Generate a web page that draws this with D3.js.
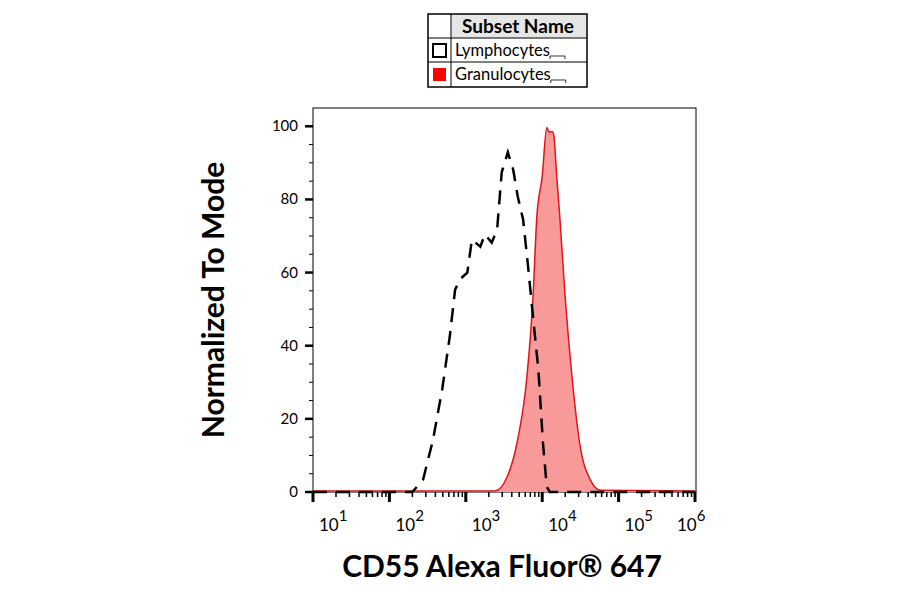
<!DOCTYPE html>
<html><head><meta charset="utf-8">
<script src="https://cdn.jsdelivr.net/npm/d3@7"></script>
<style>body{margin:0;background:#fff}text{font-family:Lato,"Open Sans",sans-serif}</style>
</head><body><div id="graph"></div>
<script>
// x values are log10 of the fluorescence, y is % of mode
var lymphX = [1, 2.3, 2.44, 2.57, 2.69, 2.79, 2.86, 2.92, 3.02, 3.08, 3.19, 3.25, 3.34, 3.41, 3.47, 3.55, 3.62, 3.68, 3.75, 3.81, 3.88, 3.95, 4.01, 4.06, 4.10, 6]
var lymphY = [0, 0, 3.3, 14.2, 27.9, 42.5, 55.3, 58.1, 60, 69, 67.1, 70.4, 68.2, 71.8, 87.4, 92.9, 88.2, 80.8, 74.5, 62.7, 47.9, 33.4, 13.4, 1.4, 0, 0]
var granX = [1, 3.38, 3.54, 3.67, 3.80, 3.88, 3.93, 4.00, 4.06, 4.09, 4.13, 4.15, 4.19, 4.23, 4.30, 4.39, 4.49, 4.63, 4.76, 6]
var granY = [0.3, 0.3, 4.1, 13.4, 31.5, 53.4, 75.3, 86.3, 99.7, 98.4, 98.6, 97.8, 86.3, 75.3, 53.4, 31.5, 13.4, 3.3, 0.5, 0.3]
var yTicks = [0, 20, 40, 60, 80, 100]
var xDecades = [1, 2, 3, 4, 5, 6]
var legendNames = ["Lymphocytes", "Granulocytes"]

var w = 900, h = 594
var svg = d3.select('#graph').append('svg').attr('width', w).attr('height', h)

var x = d3.scaleLinear().domain([1, 6]).range([313, 695])
var y = d3.scaleLinear().domain([0, 105]).range([492, 108])

// frame
svg.append('rect').attr('x', 313).attr('y', 108).attr('width', 383).attr('height', 384)
  .attr('fill', 'none').attr('stroke', '#000').attr('stroke-width', 1)

var lymph = lymphX.map((v, i) => [v, lymphY[i]])
var gran = granX.map((v, i) => [v, granY[i]])

svg.append('path').datum(gran)
  .attr('d', d3.area().x(d => x(d[0])).y0(y(0)).y1(d => y(d[1])).curve(d3.curveMonotoneX))
  .attr('fill', '#f89a9a')
svg.append('path').datum(gran)
  .attr('d', d3.line().x(d => x(d[0])).y(d => y(d[1])).curve(d3.curveMonotoneX))
  .attr('fill', 'none').attr('stroke', '#e0141b').attr('stroke-width', 1.5)
svg.append('path').datum(lymph)
  .attr('d', d3.line().x(d => x(d[0])).y(d => y(d[1])))
  .attr('fill', 'none').attr('stroke', '#000').attr('stroke-width', 2.5)
  .attr('stroke-dasharray', '14,9')

// y axis
var yMinor = d3.range(0, 105, 5)
svg.append('g').selectAll('line').data(yMinor).enter().append('line')
  .attr('x1', 313).attr('x2', d => d % 20 == 0 ? 305 : 309)
  .attr('y1', d => y(d)).attr('y2', d => y(d))
  .attr('stroke', '#000').attr('stroke-width', d => d % 20 == 0 ? 2.5 : 1)
svg.append('g').selectAll('text').data(yTicks).enter().append('text')
  .attr('x', 298).attr('y', d => y(d) + 5).attr('text-anchor', 'end')
  .attr('font-size', 15).text(d => d)

// x axis with log minor ticks
var xMinor = []
xDecades.forEach(dd => { if (dd < 6) for (var k = 2; k < 10; k++) xMinor.push(dd + Math.log10(k)) })
svg.append('g').selectAll('line').data(xMinor).enter().append('line')
  .attr('x1', d => x(d)).attr('x2', d => x(d)).attr('y1', 492).attr('y2', 497)
  .attr('stroke', '#000').attr('stroke-width', 1.5)
svg.append('g').selectAll('line').data(xDecades).enter().append('line')
  .attr('x1', d => x(d)).attr('x2', d => x(d)).attr('y1', 492).attr('y2', 502)
  .attr('stroke', '#000').attr('stroke-width', 3)
var lab = svg.append('g').selectAll('text').data(xDecades).enter().append('text')
  .attr('x', d => x(d) + (d == 6 ? -18 : 6)).attr('y', 531).attr('font-size', 17)
lab.append('tspan').text('10')
lab.append('tspan').attr('dy', -10).attr('font-size', 15).text(d => d)

// axis titles
svg.append('text').attr('x', 502).attr('y', 577).attr('text-anchor', 'middle')
  .attr('font-size', 30).attr('font-weight', 'bold').text('CD55 Alexa Fluor® 647')
svg.append('text').attr('transform', 'translate(224,300) rotate(-90)').attr('text-anchor', 'middle')
  .attr('font-size', 30).attr('font-weight', 'bold').text('Normalized To Mode')

// legend table
var lg = svg.append('g')
lg.append('rect').attr('x', 451).attr('y', 14).attr('width', 136).attr('height', 24).attr('fill', '#e6e6e6')
lg.append('rect').attr('x', 428).attr('y', 14).attr('width', 159).attr('height', 73)
  .attr('fill', 'none').attr('stroke', '#000').attr('stroke-width', 1.5)
;[38, 62].forEach(yy => lg.append('line').attr('x1', 428).attr('x2', 587).attr('y1', yy).attr('y2', yy).attr('stroke', '#000'))
lg.append('line').attr('x1', 451).attr('x2', 451).attr('y1', 14).attr('y2', 87).attr('stroke', '#000')
lg.append('text').attr('x', 518).attr('y', 33).attr('text-anchor', 'middle').attr('font-size', 19)
  .attr('font-weight', 'bold').text('Subset Name')
legendNames.forEach((n, i) => {
  var yy = 38 + i * 24
  lg.append('rect').attr('x', 433).attr('y', yy + 6).attr('width', 13).attr('height', 13)
    .attr('fill', i ? '#f00' : '#fff').attr('stroke', i ? 'none' : '#000').attr('stroke-width', 2)
  var t = lg.append('text').attr('x', 455).attr('y', yy + 18).attr('font-size', 16.5).text(n)
  var tw = t.node().getComputedTextLength()
  lg.append('path').attr('d', 'M' + (455 + tw) + ',' + (yy + 21) + 'v-3h15v3')
    .attr('fill', 'none').attr('stroke', '#000').attr('stroke-width', 0.8)
})
</script></body></html>
